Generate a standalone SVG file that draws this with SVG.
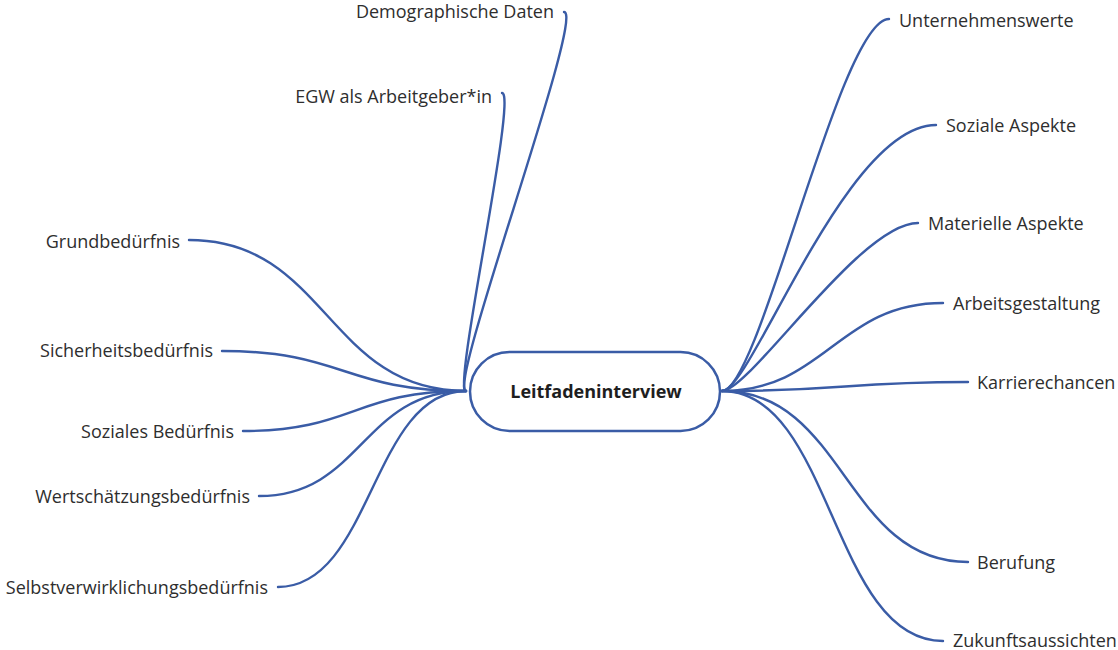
<svg xmlns="http://www.w3.org/2000/svg" width="1118" height="650" viewBox="0 0 1118 650">
<style>
.lbl{font-family:"Open Sans","Noto Sans",sans-serif;font-size:18px;fill:#2e2e2e}
.l{text-anchor:end}
.c{fill:none;stroke:#3a5ca6;stroke-width:2.4;stroke-linecap:round}
.root{fill:#ffffff;stroke:#3a5ca6;stroke-width:2.5}
.rt{font-family:"Open Sans","Noto Sans",sans-serif;font-size:18px;font-weight:bold;fill:#1e1e1e;text-anchor:middle}
</style>
<rect width="1118" height="650" fill="#ffffff"/>
<g id="connectors">
<path class="c" d="M466,391 C446,391 586,12 564,12"/>
<path class="c" d="M466,391 C452,391 518,93 502,93"/>
<path class="c" d="M466,391 C327,391 327,240 189,240"/>
<path class="c" d="M466,391 C344,391 344,351 222,351"/>
<path class="c" d="M466,391 C354,391 354,431 243,431"/>
<path class="c" d="M466,391 C362,391 362,496 259,496"/>
<path class="c" d="M466,391 C372,391 372,587 278,587"/>
<path class="c" d="M722,391 C760,391 840,19 889,19"/>
<path class="c" d="M722,391 C752,391 845,125 936,125"/>
<path class="c" d="M722,391 C750,391 860,223 918,223"/>
<path class="c" d="M722,391 C825,391 838,303 943,303"/>
<path class="c" d="M722,391 C845,391 845,382 968,382"/>
<path class="c" d="M722,391 C845,391 845,562 968,562"/>
<path class="c" d="M722,391 C832,391 832,641 943,641"/>
</g>
<g id="node-root">
<rect class="root" x="470" y="352" width="250" height="79" rx="39.5"/>
<text class="rt" x="596" y="398">Leitfadeninterview</text>
</g>
<g id="node-demographische-daten"><text class="lbl l" x="554" y="18">Demographische Daten</text></g>
<g id="node-egw"><text class="lbl l" x="492" y="103">EGW als Arbeitgeber*in</text></g>
<g id="node-grundbeduerfnis"><text class="lbl l" x="180" y="248">Grundbedürfnis</text></g>
<g id="node-sicherheitsbeduerfnis"><text class="lbl l" x="213" y="357">Sicherheitsbedürfnis</text></g>
<g id="node-soziales-beduerfnis"><text class="lbl l" x="234" y="438">Soziales Bedürfnis</text></g>
<g id="node-wertschaetzungsbeduerfnis"><text class="lbl l" x="250" y="503">Wertschätzungsbedürfnis</text></g>
<g id="node-selbstverwirklichungsbeduerfnis"><text class="lbl l" x="268" y="594">Selbstverwirklichungsbedürfnis</text></g>
<g id="node-unternehmenswerte"><text class="lbl" x="899" y="27">Unternehmenswerte</text></g>
<g id="node-soziale-aspekte"><text class="lbl" x="946" y="132">Soziale Aspekte</text></g>
<g id="node-materielle-aspekte"><text class="lbl" x="928" y="230">Materielle Aspekte</text></g>
<g id="node-arbeitsgestaltung"><text class="lbl" x="953" y="310">Arbeitsgestaltung</text></g>
<g id="node-karrierechancen"><text class="lbl" x="977" y="389">Karrierechancen</text></g>
<g id="node-berufung"><text class="lbl" x="977" y="569">Berufung</text></g>
<g id="node-zukunftsaussichten"><text class="lbl" x="953" y="647">Zukunftsaussichten</text></g>
</svg>
